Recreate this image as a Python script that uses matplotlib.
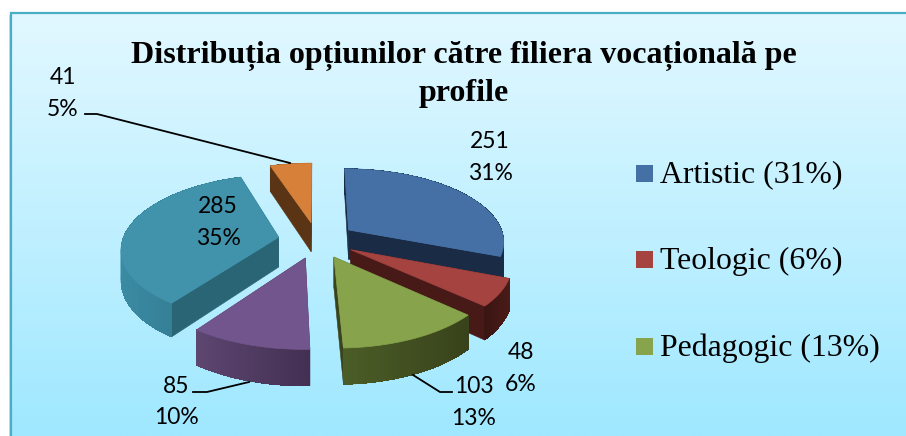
import numpy as np
import matplotlib
matplotlib.use("Agg")
import matplotlib.pyplot as plt
from matplotlib.patches import Rectangle, Polygon
from matplotlib.colors import to_rgb, LinearSegmentedColormap

values = [251, 48, 103, 85, 285, 41]
percents = ["31%", "6%", "13%", "10%", "35%", "5%"]
legend_labels = ["Artistic (31%)", "Teologic (6%)", "Pedagogic (13%)"]
title_lines = ["Distribuția opțiunilor către filiera vocațională pe", "profile"]

top_colors = ["#4470A6", "#A54340", "#87A34C", "#71558C", "#4093AB", "#D7803A"]
cut_colors = ["#1A2C45", "#481A17", "#3A441C", "#433052", "#2A6575", "#5A3414"]
rim_left = ["#1A2C45", "#3A1512", "#4B5D27", "#5D4670", "#3A8BA3", "#5A3414"]
rim_right = ["#1A2C45", "#4A1B18", "#38421B", "#422F52", "#2E7083", "#5A3414"]

label_pos = [(490, 141, 173), (521, 352, 384), (474, 386, 418),
             (176, 386, 417), (218, 206, 238), (63, 77, 109)]
leaders = [None, None, [(452, 392), (440, 392), (413, 375)],
           [(193, 392), (207, 392), (249, 382)], None,
           [(85, 114), (97, 114), (290, 163)]]

W, H = 906, 436
CX, CY, RX, RY, K, DEPTH, EXPLODE = 317, 240, 156, 72.6, 0.143, 30, 0.25

fig = plt.figure(figsize=(W / 100, H / 100), dpi=100)
ax = fig.add_axes([0, 0, 1, 1])
ax.set_xlim(0, W)
ax.set_ylim(H, 0)
ax.axis("off")

# panel
grad = LinearSegmentedColormap.from_list("g", ["#E2F8FF", "#9FE8FF"])
ax.imshow(np.linspace(0, 1, 256).reshape(-1, 1), cmap=grad, aspect="auto",
          extent=(11, 906, 436, 13), zorder=0)
ax.set_xlim(0, W)
ax.set_ylim(H, 0)
ax.add_patch(Rectangle((8.5, 15), 2, 421, fc="#D8D8D8", ec="none", zorder=0.5))
ax.plot([11, 11, 906], [436, 13.5, 13.5], color="#4BACC6", lw=1.6, zorder=1,
        solid_joinstyle="miter")


def project(u, v, z=0.0):
    u, v = np.asarray(u, float), np.asarray(v, float)
    s = 1 / (1 + K * v)
    return CX + RX * u * s, CY - RY * v * s + DEPTH * z * s


def mix(a, b, t):
    a, b = np.array(to_rgb(a)), np.array(to_rgb(b))
    return tuple(a + (b - a) * t)


total = sum(values)
angles = np.cumsum([0] + values) / total * 2 * np.pi
mids = (angles[:-1] + angles[1:]) / 2

for i in sorted(range(len(values)), key=lambda j: -np.cos(mids[j])):
    a, b = angles[i], angles[i + 1]
    ou, ov = EXPLODE * np.sin(mids[i]), EXPLODE * np.cos(mids[i])
    th = np.linspace(a, b, 60)
    u, v = ou + np.sin(th), ov + np.cos(th)
    # radial cut faces
    for t in (a, b):
        eu, ev = ou + np.sin(t), ov + np.cos(t)
        x0, y0 = project([ou, eu], [ov, ev], 0)
        x1, y1 = project([eu, ou], [ev, ov], 1)
        ax.add_patch(Polygon(np.c_[np.r_[x0, x1], np.r_[y0, y1]], fc=cut_colors[i],
                             ec=cut_colors[i], lw=0.4, zorder=3 + 0.01 * i))
    # outer wall: a strip per angle step, with soft-edged underlay strips
    xt, yt = project(u, v, 0)
    xb, yb = project(u, v, 1)
    lo, hi = xt.min(), xt.max()
    for k in range(len(th) - 1):
        f = ((xt[k] + xt[k + 1]) / 2 - lo) / max(hi - lo, 1)
        c = mix(rim_left[i], rim_right[i], f)
        pts = [(xt[k], yt[k]), (xt[k + 1], yt[k + 1]), (xb[k + 1], yb[k + 1]), (xb[k], yb[k])]
        ax.add_patch(Polygon(pts, fc=c, ec=c, lw=0.3, zorder=3 + 0.01 * i))
        ax.add_patch(Polygon(pts, fc=c, ec="none", lw=0, antialiased=False, zorder=3 + 0.01 * i))
    # top
    xo, yo = project(ou, ov, 0)
    ax.add_patch(Polygon(np.c_[np.r_[xo, xt], np.r_[yo, yt]], fc=top_colors[i],
                         ec=top_colors[i], lw=0.5, zorder=3 + 0.01 * i + 0.005))

# data labels
for val, pct, (x, y1, y2), lead in zip(values, percents, label_pos, leaders):
    ax.text(x, y1, str(val), family="Lato", fontsize=16.5, ha="center", va="center", color="black", zorder=6)
    ax.text(x, y2, pct, family="Lato", fontsize=16.5, ha="center", va="center", color="black", zorder=6)
    if lead:
        xs, ys = zip(*lead)
        ax.plot(xs, ys, color="black", lw=1.3, zorder=5)

# title
for txt, y in zip(title_lines, (56, 94)):
    ax.text(464, y, txt, family="Liberation Serif", weight="bold", fontsize=23, ha="center", va="center", color="black", zorder=6)

# legend
for lab, col, y in zip(legend_labels, top_colors, (175, 261, 348)):
    ax.add_patch(Rectangle((636, y - 10.5), 17, 17, fc=col, ec="none", zorder=6))
    ax.text(660, y, lab, family="Liberation Serif", fontsize=22.9, ha="left", va="center", color="black", zorder=6)

fig.savefig("out.png", dpi=100)
